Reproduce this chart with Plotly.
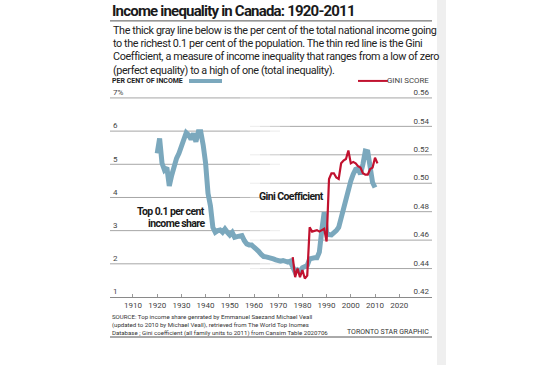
import plotly.graph_objects as go

# ---------------- data ----------------
top_years = list(range(1920, 2011))
top01_share = [
    5.33, 5.78, 5.03, 4.83, 4.90, 4.35, 4.67, 4.98, 5.18, 5.33,   # 1920-1929
    5.58, 5.78, 5.95, 5.88, 5.75, 5.93, 5.68, 5.98, 5.98, 5.58,   # 1930-1939
    5.03, 4.12, 3.75, 3.10, 2.95, 3.00, 3.02, 2.95, 3.05, 2.95,   # 1940-1949
    2.87, 2.95, 2.80, 2.82, 2.82, 2.85, 2.70, 2.60, 2.57, 2.57,   # 1950-1959
    2.50, 2.45, 2.37, 2.28, 2.22, 2.21, 2.20, 2.18, 2.15, 2.12,   # 1960-1969
    2.10, 2.08, 2.10, 2.06, 2.05, 2.08, 1.95, 1.75, 1.82, 1.78,   # 1970-1979
    1.88, 1.92, 1.95, 2.15, 2.18, 2.18, 2.18, 2.35, 3.00, 3.55,   # 1980-1989
    2.95, 2.88, 2.87, 2.93, 3.00, 3.10, 3.40, 3.70, 3.95, 4.22,   # 1990-1999
    4.50, 4.70, 4.85, 4.87, 4.70, 5.00, 5.40, 5.38, 4.85, 4.45,   # 2000-2009
    4.30,                                                         # 2010
]
gini_years = list(range(1976, 2012))
gini_score = [
    0.448, 0.434, 0.440, 0.434, 0.439, 0.433, 0.435,              # 1976-1982
    0.469, 0.466, 0.4665, 0.467, 0.466, 0.467, 0.468, 0.459,      # 1983-1990
    0.503, 0.507, 0.507, 0.504, 0.503, 0.514, 0.516, 0.517,       # 1991-1998
    0.523, 0.514, 0.515, 0.514, 0.512, 0.511, 0.507, 0.506,       # 1999-2006
    0.506, 0.510, 0.511, 0.518, 0.514,                            # 2007-2011
]
x_tick_vals = list(range(1910, 2021, 10))
left_tick_vals = [1, 2, 3, 4, 5, 6, 7]
left_tick_text = ["1", "2", "3", "4", "5", "6", "7%"]
right_tick_vals = [0.42, 0.44, 0.46, 0.48, 0.50, 0.52, 0.54, 0.56]
right_tick_text = ["0.42", "0.44", "0.46", "0.48", "0.50", "0.52", "0.54", "0.56"]

title_text = "Income inequality in Canada: 1920-2011"
intro_lines = [
    "The thick gray line below is the per cent of the total national income going",
    "to the richest 0.1 per cent of the population. The thin red line is the Gini",
    "Coefficient, a measure of income inequality that ranges from a low of zero",
    "(perfect equality) to a high of one (total inequality).",
]
source_lines = [
    "SOURCE: Top income share genrated by Emmanuel Saezand Michael Veall",
    "(updated to 2010 by Michael Veall), retrieved from The World Top Inomes",
    "Database ; Gini coefficient (all family units to 2011) from Cansim Table 2020706",
]

# ---------------- layout helpers ----------------
W, H = 545, 365
L, R, B = 110, 432, 297      # plot area in target pixel coords
Y_LO, Y_HI = 1, 7.45         # left scale (7 sits at pixel 98)
PX_PER_UNIT = 199 / 6
T = B - (Y_HI - Y_LO) * PX_PER_UNIT
Y2_LO = 0.42
Y2_HI = 0.42 + (Y_HI - Y_LO) / 6 * 0.14

def px(x):
    return (x - L) / (R - L)
def py(y):
    return (B - y) / (B - T)

FONT = "Roboto, Lato, sans-serif"
BLUE = "#7ba8bd"
RED = "#c1122f"
GRID = "#a6a6a6"

fig = go.Figure()
fig.add_trace(go.Scatter(x=top_years, y=top01_share, mode="lines",
                         line=dict(color=BLUE, width=5), yaxis="y", hoverinfo="skip"))
fig.add_trace(go.Scatter(x=gini_years, y=gini_score, mode="lines",
                         line=dict(color=RED, width=2.2), yaxis="y2", hoverinfo="skip"))

shapes = []
def seg(x0, x1, yv, yref, op):
    shapes.append(dict(type="line", xref="paper", yref=yref, x0=px(x0), x1=px(x1),
                       y0=yv, y1=yv, line=dict(color=GRID, width=1), opacity=op, layer="below"))
for v in left_tick_vals[1:]:
    seg(L, 240, v, "y", 1)
    for i, op in enumerate([0.8, 0.6, 0.4, 0.2]):
        seg(240 + 10 * i, 250 + 10 * i, v, "y", op)
for v in right_tick_vals[1:]:
    for i, op in enumerate([0.2, 0.4, 0.6, 0.8]):
        seg(250 + 10 * i, 260 + 10 * i, v, "y2", op)
    seg(290, R, v, "y2", 1)
# rules under title and at bottom
for yy in (21, 337):
    shapes.append(dict(type="line", xref="paper", yref="paper", x0=px(110), x1=px(432),
                       y0=py(yy), y1=py(yy), line=dict(color="#555", width=1)))
# legend samples
shapes.append(dict(type="line", xref="paper", yref="paper", x0=px(189), x1=px(222),
                   y0=py(81), y1=py(81), line=dict(color=BLUE, width=4)))
shapes.append(dict(type="line", xref="paper", yref="paper", x0=px(358), x1=px(388),
                   y0=py(81), y1=py(81), line=dict(color=RED, width=2)))
# light band at right edge
shapes.append(dict(type="rect", xref="paper", yref="paper", x0=px(437), x1=px(446),
                   y0=py(0), y1=py(365), fillcolor="#efefef", line=dict(width=0), layer="below"))

ann = []
def text(x, y, s, size, color="#222", bold=False, xanchor="left", ls=None):
    if bold:
        s = "<b>%s</b>" % s
    if ls is not None:
        s = "<span style='letter-spacing:%spx'>%s</span>" % (ls, s)
    ann.append(dict(xref="paper", yref="paper", x=px(x), y=py(y), text=s,
                    showarrow=False, xanchor=xanchor, yanchor="middle", align="left",
                    font=dict(size=size, color=color, family=FONT)))

text(110, 11.5, title_text, 15, "#1a1a1a", bold=True, ls=-0.8)
for i, line in enumerate(intro_lines):
    text(111, 30.5 + 13.25 * i, line, 10.8, "#222", ls=-0.38)
text(110, 81, "PER CENT OF INCOME", 7.0, "#222", bold=True)
text(431, 81, "GINI SCORE", 7.9, "#444", xanchor="right")
text(207, 212, "Top 0.1 per cent", 10.5, "#1a1a1a", bold=True, xanchor="right", ls=-0.6)
text(207, 223.5, "income share", 10.5, "#1a1a1a", bold=True, xanchor="right", ls=-0.6)
text(257, 197, "Gini Coefficient", 10.5, "#1a1a1a", bold=True, ls=-0.6)
text(110, 324.5, "<br>".join(source_lines), 6.1, "#333")
text(431, 331.5, "TORONTO STAR GRAPHIC", 7.0, "#333", xanchor="right")

fig.update_layout(
    width=W, height=H,
    margin=dict(l=L, r=W - R, t=T, b=H - B, pad=0),
    paper_bgcolor="white", plot_bgcolor="rgba(0,0,0,0)",
    showlegend=False,
    shapes=shapes, annotations=ann,
    xaxis=dict(range=[1900.5, 2033.55], tickvals=x_tick_vals, ticks="inside", ticklen=3,
               tickcolor="#999", showline=True, linecolor="#8a8a8a", linewidth=1,
               showgrid=False, zeroline=False,
               tickfont=dict(size=8, color="#444", family=FONT)),
    yaxis=dict(range=[Y_LO, Y_HI], tickvals=left_tick_vals, ticktext=left_tick_text,
               ticklabelposition="inside top", showgrid=False, zeroline=False, showline=False,
               ticks="", tickfont=dict(size=8, color="#444", family=FONT)),
    yaxis2=dict(range=[Y2_LO, Y2_HI], tickvals=right_tick_vals, ticktext=right_tick_text,
                overlaying="y", side="right", ticklabelposition="inside top",
                showgrid=False, zeroline=False, showline=False, ticks="",
                tickfont=dict(size=8, color="#444", family=FONT)),
)

fig.write_html("out.html", config={"displayModeBar": False},
               post_script="document.body.style.margin='0';")
